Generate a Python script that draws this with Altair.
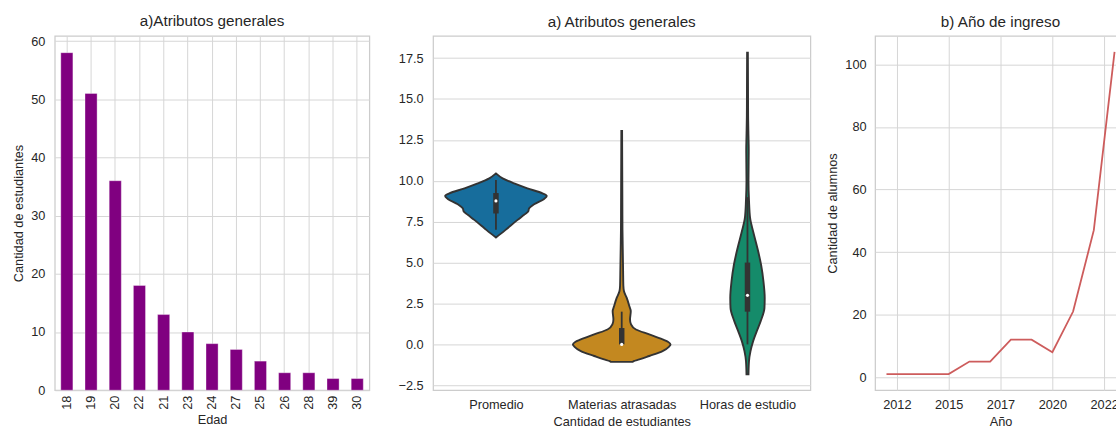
import altair as alt
import pandas as pd

# ---------------- a) ages ----------------
edades = ["18", "19", "20", "22", "21", "23", "24", "27", "25", "26", "28", "39", "30"]
estudiantes = [58, 51, 36, 18, 13, 10, 8, 7, 5, 3, 3, 2, 2]

# ---------------- a) violin outlines (value level, half width of the density) ----------------
variables = ["Promedio", "Materias atrasadas", "Horas de estudio"]
colores_violin = ["#176d9c", "#c38820", "#158b6a"]

prom_nivel = [6.53, 6.80, 7.10, 7.61, 7.92, 8.12, 8.32, 8.56, 8.89, 9.07, 9.23, 9.54, 9.84, 10.15, 10.45]
prom_ancho = [0.0, 0.045, 0.092, 0.172, 0.224, 0.256, 0.264, 0.303, 0.383, 0.404, 0.370, 0.250, 0.145, 0.053, 0.0]

mat_nivel = [-1.07, -1.02, -0.92, -0.71, -0.41, -0.15, 0.0, 0.15, 0.30, 0.61, 0.91, 1.22, 1.52, 2.03, 2.33,
             2.84, 3.25, 3.6, 4.5, 5.5, 7.0, 9.0, 11.0, 13.05]
mat_ancho = [0.087, 0.095, 0.14, 0.219, 0.325, 0.375, 0.388, 0.37, 0.325, 0.219, 0.113, 0.074, 0.066, 0.072,
             0.061, 0.040, 0.018, 0.013, 0.011, 0.009, 0.006, 0.005, 0.004, 0.003]

horas_nivel = [-1.83, -1.02, -0.41, 0.20, 0.81, 1.42, 2.23, 2.84, 3.85, 4.87, 5.88, 6.90, 7.71, 8.8, 10.0,
               11.9, 12.7, 14.0, 16.0, 17.82]
horas_ancho = [0.008, 0.012, 0.024, 0.045, 0.074, 0.105, 0.135, 0.137, 0.127, 0.108, 0.079, 0.045, 0.021,
               0.012, 0.008, 0.010, 0.008, 0.005, 0.004, 0.003]

# inner box statistics
q1 = [8.0, 0.0, 2.0]
q3 = [9.25, 1.0, 5.0]
mediana = [8.77, 0.0, 3.0]
bigote_inf = [7.0, 0.0, 0.0]
bigote_sup = [10.05, 2.0, 9.0]

# ---------------- b) year of admission ----------------
anios = [2012, 2013, 2014, 2015, 2016, 2017, 2018, 2019, 2020, 2021, 2022, 2023]
alumnos = [1, 1, 1, 1, 5, 5, 12, 12, 8, 21, 47, 104]
anio_ticks = [2012.5, 2015, 2017.5, 2020, 2022.5]

TXT = "#262626"
GRID = "#d6d6d6"
EDGE = "#cccccc"
LINEA_VIOLIN = "#333333"
H = 356

# ---------- panel 1: bars ----------
df_edad = pd.DataFrame({"Edad": edades, "Cantidad": estudiantes})
barras = alt.Chart(df_edad, title="a)Atributos generales").mark_bar(
    color="#800080", stroke="#ffffff", strokeWidth=0.5, strokeOpacity=0.7
).encode(
    x=alt.X("Edad:N", sort=edades, title="Edad",
            scale=alt.Scale(paddingInner=0.5, paddingOuter=0.25),
            axis=alt.Axis(labelAngle=-90, labelPadding=5, bandPosition=0.5, grid=True,
                          titlePadding=4)),
    y=alt.Y("Cantidad:Q", title="Cantidad de estudiantes",
            scale=alt.Scale(domain=[0, 60.9], nice=False),
            axis=alt.Axis(values=[0, 10, 20, 30, 40, 50, 60], labelPadding=10, titlePadding=5)),
).properties(width=316, height=H)

# ---------- panel 2: violins ----------
filas = []
for i, (niv, anc) in enumerate([(prom_nivel, prom_ancho), (mat_nivel, mat_ancho), (horas_nivel, horas_ancho)]):
    for n, a in zip(niv, anc):
        filas.append({"variable": variables[i], "pos": i, "nivel": n, "ancho": a})
df_violin = pd.DataFrame(filas)

df_caja = pd.DataFrame({"variable": variables, "pos": [0, 1, 2], "q1": q1, "q3": q3,
                        "mediana": mediana, "inf": bigote_inf, "sup": bigote_sup})

etiquetas = "{0: 'Promedio', 1: 'Materias atrasadas', 2: 'Horas de estudio'}[datum.value]"
x_cat = alt.X("izq:Q", title="Cantidad de estudiantes", stack=None,
              scale=alt.Scale(domain=[-0.5, 2.5], nice=False, zero=False),
              axis=alt.Axis(values=[0, 1, 2], labelExpr=etiquetas, grid=False,
                            labelPadding=8, titlePadding=5))
y_val = alt.Y("nivel:Q", title=None,
              scale=alt.Scale(domain=[-2.8, 18.86], nice=False, zero=False),
              axis=alt.Axis(values=[-2.5, 0, 2.5, 5, 7.5, 10, 12.5, 15, 17.5], format=".1f",
                            labelPadding=10))

violines = alt.Chart(df_violin).transform_calculate(
    izq="datum.pos - datum.ancho", der="datum.pos + datum.ancho"
).mark_area(orient="horizontal", stroke=LINEA_VIOLIN, strokeWidth=1.9, opacity=1,
            interpolate="monotone").encode(
    x=x_cat,
    x2="der:Q",
    y=y_val,
    color=alt.Color("variable:N", scale=alt.Scale(domain=variables, range=colores_violin), legend=None),
)

base_caja = alt.Chart(df_caja).encode(x=alt.X("pos:Q"))
bigotes = base_caja.mark_rule(color=LINEA_VIOLIN, strokeWidth=1.8).encode(y="inf:Q", y2="sup:Q")
cajas = base_caja.mark_rule(color=LINEA_VIOLIN, strokeWidth=5.5).encode(y="q1:Q", y2="q3:Q")
medianas = base_caja.mark_point(filled=True, color="white", opacity=1, size=10).encode(y="mediana:Q")

panel_violin = alt.layer(violines, bigotes, cajas, medianas).properties(
    width=379, height=H, title="a) Atributos generales")

# ---------- panel 3: line ----------
df_anio = pd.DataFrame({"Año": anios, "Alumnos": alumnos})
linea = alt.Chart(df_anio, title="b) Año de ingreso").mark_line(
    color="#cd5c5c", strokeWidth=1.8
).encode(
    x=alt.X("Año:Q", title="Año",
            scale=alt.Scale(domain=[2011.45, 2023.55], nice=False, zero=False),
            axis=alt.Axis(values=anio_ticks, labelExpr="format(floor(datum.value), 'd')",
                          labelPadding=8, titlePadding=5, labelFlush=False)),
    y=alt.Y("Alumnos:Q", title="Cantidad de alumnos",
            scale=alt.Scale(domain=[-4.15, 109.15], nice=False, zero=False),
            axis=alt.Axis(values=[0, 20, 40, 60, 80, 100], labelPadding=9, titlePadding=5)),
).properties(width=252, height=H)

# the last panel runs past the right edge of the figure, as does the bottom title row
chart = alt.hconcat(
    alt.hconcat(barras, panel_violin, spacing=27),
    linea,
    spacing=15,
).properties(
    padding={"left": 12, "top": 12, "right": -11, "bottom": -2}
).configure(
    font="Liberation Sans",
    background="white",
).configure_view(
    stroke=EDGE, strokeWidth=1.25,
).configure_axis(
    labelFont="Liberation Sans", titleFont="Liberation Sans",
    labelFontSize=12.8, titleFontSize=12.8,
    labelColor=TXT, titleColor=TXT, titleFontWeight="normal",
    ticks=False, tickSize=0, domain=False,
    gridColor=GRID, gridWidth=1,
).configure_title(
    font="Liberation Sans", fontSize=15.3, fontWeight="normal", color=TXT, offset=6,
)

chart.save("out.html", embed_options={"renderer": "svg", "actions": False})
